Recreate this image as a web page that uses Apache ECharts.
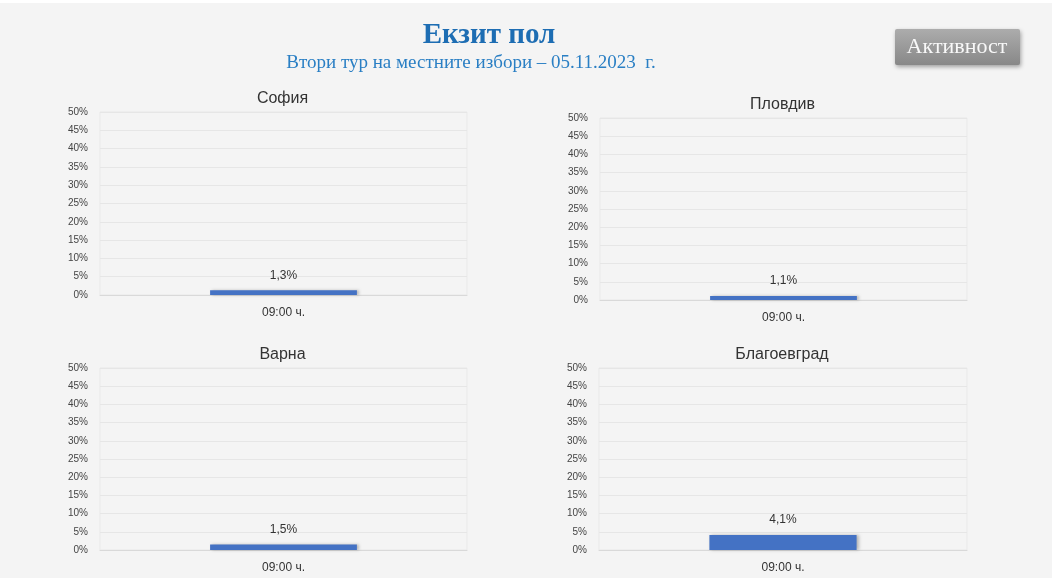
<!DOCTYPE html>
<html>
<head>
<meta charset="utf-8">
<script src="https://cdn.jsdelivr.net/npm/echarts@6/dist/echarts.min.js"></script>
<style>
  html, body { margin: 0; padding: 0; background: #ffffff; }
  #main { width: 1052px; height: 578px; }
</style>
</head>
<body>
<div id="main"></div>
<script>
// данни
const cities = ['София', 'Пловдив', 'Варна', 'Благоевград'];
const hours = ['09:00 ч.'];
const turnout = [1.3, 1.1, 1.5, 4.1];
const yMax = 50;
const yStep = 5;

// разположение на четирите графики
const boxes = [
    { left: 100, top: 112, width: 367, height: 183 },
    { left: 600, top: 118, width: 367, height: 182 },
    { left: 100, top: 368, width: 367, height: 182 },
    { left: 599, top: 368, width: 368, height: 182 }
];

const font = 'Liberation Sans';
const chart = echarts.init(document.getElementById('main'));

let grids = [], xAxes = [], yAxes = [], series = [];
let titles = [
    {
        text: 'Екзит пол',
        left: 484, top: 16, textAlign: 'center',
        textStyle: { fontFamily: 'Liberation Serif', fontSize: 29, fontWeight: 'bold', color: '#1d6db3' }
    },
    {
        text: 'Втори тур на местните избори – 05.11.2023  г.',
        left: 466, top: 49, textAlign: 'center',
        textStyle: { fontFamily: 'Liberation Serif', fontSize: 19, fontWeight: 'normal', color: '#2a7fc4' }
    }
];

cities.forEach((city, i) => {
    let b = boxes[i];
    grids.push({
        left: b.left, top: b.top, width: b.width, height: b.height,
        show: true, borderColor: '#e9e9e9', borderWidth: 1, backgroundColor: 'transparent'
    });
    titles.push({
        text: city,
        left: b.left + b.width / 2 - 6, top: b.top - 26, textAlign: 'center',
        textStyle: { fontFamily: font, fontSize: 16, fontWeight: 'normal', color: '#333' }
    });
    xAxes.push({
        type: 'category', gridIndex: i, data: hours,
        axisTick: { show: false },
        axisLine: { lineStyle: { color: '#d9d9d9' } },
        axisLabel: { fontFamily: font, fontSize: 12, color: '#333', margin: 12 }
    });
    yAxes.push({
        type: 'value', gridIndex: i, min: 0, max: yMax, interval: yStep,
        axisLine: { show: false }, axisTick: { show: false },
        splitLine: { lineStyle: { color: '#e6e6e6' } },
        axisLabel: { fontFamily: font, fontSize: 10, color: '#444', margin: 12, formatter: '{value}%' }
    });
    series.push({
        type: 'bar', xAxisIndex: i, yAxisIndex: i,
        data: [turnout[i]],
        barWidth: '40%',
        itemStyle: {
            color: '#4472c4',
            shadowColor: 'rgba(0,0,0,0.25)', shadowBlur: 3, shadowOffsetX: 2
        },
        label: {
            show: true, position: 'top', distance: 9,
            fontFamily: font, fontSize: 12, color: '#333',
            formatter: p => p.value.toFixed(1).replace('.', ',') + '%'
        }
    });
});

chart.setOption({
    backgroundColor: '#f4f4f4',
    animation: false,
    title: titles,
    grid: grids,
    xAxis: xAxes,
    yAxis: yAxes,
    series: series,
    graphic: [
        { type: 'rect', left: 0, top: 0, shape: { width: 1052, height: 3 }, style: { fill: '#ffffff' } },
        {
            type: 'rect', left: 895, top: 29,
            shape: { width: 125, height: 36, r: 2 },
            style: {
                fill: new echarts.graphic.LinearGradient(0, 0, 0, 1, [
                    { offset: 0, color: '#acacac' },
                    { offset: 1, color: '#888888' }
                ]),
                shadowColor: 'rgba(0,0,0,0.35)', shadowBlur: 4, shadowOffsetY: 2, shadowOffsetX: 1
            }
        },
        {
            type: 'text', x: 957, y: 47,
            style: {
                text: 'Активност', fill: '#f8f8f8', font: '22px "Liberation Serif"',
                align: 'center', verticalAlign: 'middle'
            }
        }
    ]
});
</script>
</body>
</html>
